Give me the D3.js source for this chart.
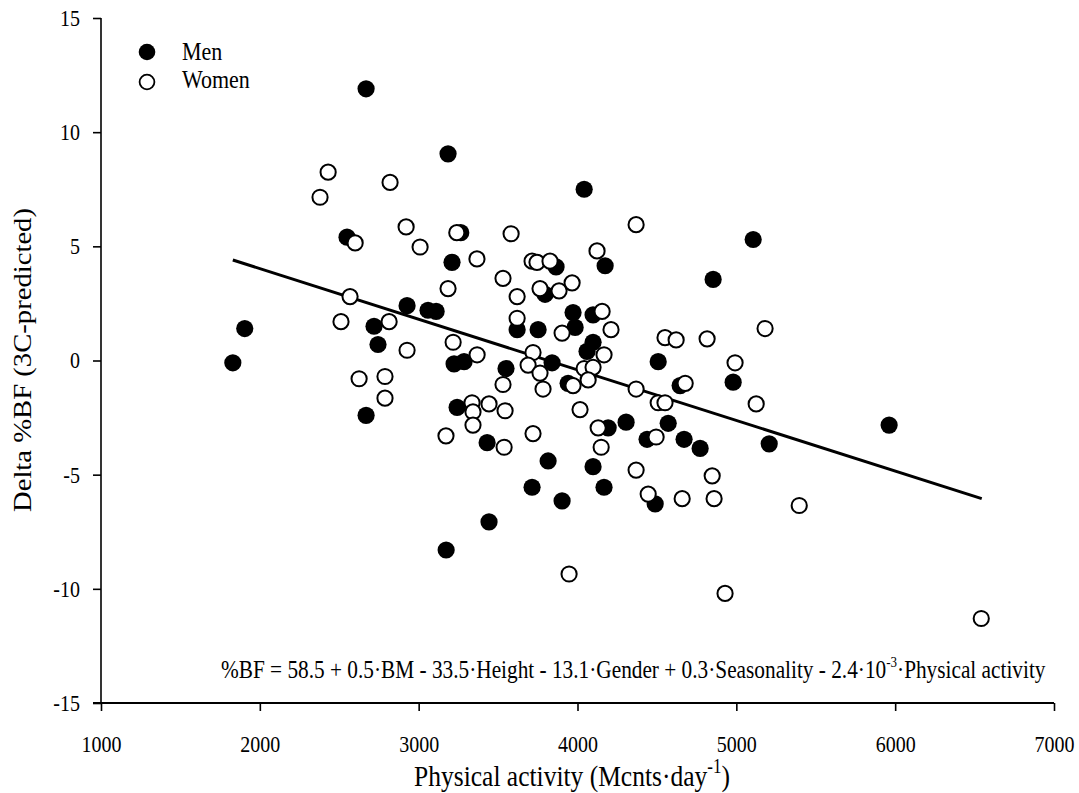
<!DOCTYPE html>
<html>
<head>
<meta charset="utf-8">
<script src="https://cdn.jsdelivr.net/npm/d3@7"></script>
<style>
  body { margin: 0; background: #fff; }
  text { font-family: "Liberation Serif", "Times New Roman", serif; fill: #000; }
</style>
</head>
<body>
<div id="chart"></div>
<script>
// men (filled)
const menX = [1830, 1905, 2669, 3185, 2549, 3265, 3210, 2927, 3059, 3110, 2719, 2744, 3223, 3286, 2669, 3242,
  3431, 3443, 3173, 4042, 5106, 3865, 4174, 4854, 3796, 3972, 4098, 3620, 3752, 3985, 4098, 4060, 4508, 4980,
  4646, 3550, 3840, 3941, 5207, 4193, 4306, 4571, 4438, 4671, 4772, 3815, 4098, 3714, 4167, 3903, 4489, 5962];
const menY = [-0.1, 1.4, 11.9, 9.05, 5.4, 5.6, 4.3, 2.4, 2.2, 2.15, 1.5, 0.7, -0.15, -0.05, -2.4, -2.05,
  -3.6, -7.07, -8.3, 7.5, 5.3, 4.1, 4.15, 3.55, 2.9, 2.1, 2.0, 1.35, 1.35, 1.45, 0.8, 0.4, -0.05, -0.95,
  -1.1, -0.35, -0.1, -1.0, -3.65, -2.95, -2.7, -2.75, -3.45, -3.45, -3.85, -4.4, -4.65, -5.55, -5.55, -6.15, -6.28, -2.83];

// women (open)
const womenX = [2600, 3240, 3367, 2921, 3009, 2430, 2379, 2820, 3185, 2568, 2511, 2814, 2927, 3217, 3368, 2625,
  2788, 2788, 3336, 3443, 3342, 3342, 3172, 4369, 3582, 3714, 3745, 3827, 4123, 3531, 3620, 3764, 3884, 3966,
  4155, 3620, 3903, 4211, 4167, 4551, 4621, 4816, 4992, 4678, 4369, 4508, 4551, 3531, 3720, 3689, 3764, 3783,
  3972, 4042, 4098, 4067, 3544, 4016, 5125, 3538, 3720, 4130, 4495, 4149, 4369, 4848, 4445, 4659, 4860, 3947,
  4929, 5181, 5396, 6542];
const womenY = [5.15, 5.6, 4.45, 5.85, 4.97, 8.25, 7.15, 7.8, 3.15, 2.8, 1.7, 1.7, 0.45, 0.8, 0.25, -0.8,
  -0.7, -1.65, -1.85, -1.9, -2.25, -2.83, -3.3, 5.95, 5.55, 4.35, 4.3, 4.35, 4.8, 3.6, 2.8, 3.15, 3.05, 3.4,
  2.15, 1.85, 1.2, 1.35, 0.25, 1.0, 0.9, 0.95, -0.1, -1.0, -1.25, -1.85, -1.85, -1.05, 0.35, -0.2, -0.55, -1.25,
  -1.1, -0.35, -0.3, -0.85, -2.2, -2.15, -1.9, -3.8, -3.2, -2.95, -3.35, -3.8, -4.8, -5.05, -5.85, -6.05, -6.05, -9.35,
  -10.2, 1.4, -6.35, -11.3];

// regression line ends
const lineX = [1830, 6545];
const lineY = [4.4, -6.05];

const xTicks = [1000, 2000, 3000, 4000, 5000, 6000, 7000];
const yTicks = [-15, -10, -5, 0, 5, 10, 15];

const width = 1079;
const height = 793;
const stretch = 1.17; // text in the original is a bit taller than wide

const svg = d3.select("#chart").append("svg")
  .attr("width", width)
  .attr("height", height);

const x = d3.scaleLinear().domain([1000, 7000]).range([101, 1054]);
const y = d3.scaleLinear().domain([-15, 15]).range([703, 18]);

// axes
const yAxis = svg.append("g")
  .attr("transform", "translate(101,0)")
  .call(d3.axisLeft(y).tickValues(yTicks).tickSize(8).tickPadding(13).tickFormat(d => String(d)));
yAxis.select(".domain").attr("d", "M0," + y(15) + "V" + y(-15)).attr("stroke-width", 1.6);
yAxis.selectAll(".tick line").attr("stroke-width", 1.6);
yAxis.selectAll("text")
  .attr("font-size", "20px")
  .attr("font-family", "Liberation Serif")
  .attr("transform", "scale(1," + stretch + ")");

const xAxis = svg.append("g")
  .attr("transform", "translate(0,703)")
  .call(d3.axisBottom(x).tickValues(xTicks).tickSize(8).tickPadding(20).tickFormat(d => String(d)));
xAxis.select(".domain").attr("d", "M93,0H" + x(7000)).attr("stroke-width", 2.2);
xAxis.selectAll(".tick line").attr("stroke-width", 1.6);
xAxis.selectAll("text")
  .attr("font-size", "20px")
  .attr("font-family", "Liberation Serif")
  .attr("transform", "scale(1," + stretch + ")");

// regression line
svg.append("path")
  .datum(lineX.map((d, i) => [d, lineY[i]]))
  .attr("fill", "none")
  .attr("stroke", "#000")
  .attr("stroke-width", 3)
  .attr("d", d3.line().x(d => x(d[0])).y(d => y(d[1])));

// points
svg.append("g").selectAll("circle")
  .data(menX.map((d, i) => [d, menY[i]]))
  .enter().append("circle")
  .attr("cx", d => x(d[0]))
  .attr("cy", d => y(d[1]))
  .attr("r", 8.6)
  .attr("fill", "#000");

svg.append("g").selectAll("circle")
  .data(womenX.map((d, i) => [d, womenY[i]]))
  .enter().append("circle")
  .attr("cx", d => x(d[0]))
  .attr("cy", d => y(d[1]))
  .attr("r", 7.6)
  .attr("fill", "#fff")
  .attr("stroke", "#000")
  .attr("stroke-width", 2);

// legend
const legend = svg.append("g");
legend.append("circle").attr("cx", 147).attr("cy", 52).attr("r", 8.3).attr("fill", "#000");
legend.append("circle").attr("cx", 147).attr("cy", 82).attr("r", 7.4)
  .attr("fill", "#fff").attr("stroke", "#000").attr("stroke-width", 1.8);
legend.append("text").attr("transform", "translate(182,60) scale(1," + stretch + ")")
  .attr("font-size", "22px").text("Men");
legend.append("text").attr("transform", "translate(182,88) scale(1," + stretch + ")")
  .attr("font-size", "22px").text("Women");

// equation
const eq = svg.append("text")
  .attr("transform", "translate(221,678) scale(1," + stretch + ")")
  .attr("font-size", "21.3px");
eq.append("tspan").text("%BF = 58.5 + 0.5·BM - 33.5·Height - 13.1·Gender + 0.3·Seasonality - 2.4·10");
eq.append("tspan").attr("font-size", "13px").attr("dy", -9).text("-3");
eq.append("tspan").attr("dy", 9).text("·Physical activity");

// axis titles
const xt = svg.append("text")
  .attr("transform", "translate(572,786) scale(1," + stretch + ")")
  .attr("text-anchor", "middle")
  .attr("font-size", "25.5px");
xt.append("tspan").text("Physical activity (Mcnts·day");
xt.append("tspan").attr("font-size", "17px").attr("dy", -11).text("-1");
xt.append("tspan").attr("dy", 11).text(")");

svg.append("text")
  .attr("transform", "translate(31,360) scale(1," + stretch + ") rotate(-90)")
  .attr("text-anchor", "middle")
  .attr("font-size", "24.5px")
  .text("Delta %BF (3C-predicted)");
</script>
</body>
</html>
